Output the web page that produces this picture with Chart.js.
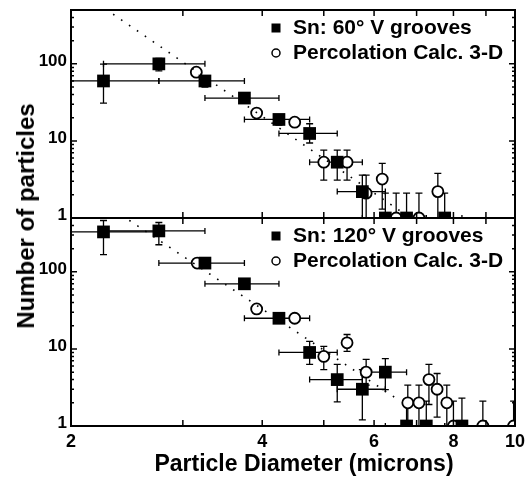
<!DOCTYPE html>
<html>
<head>
<meta charset="utf-8">
<script src="https://cdn.jsdelivr.net/npm/chart.js@4.4.1/dist/chart.umd.min.js"></script>
<style>
  body { margin:0; background:#fff; width:525px; height:477px; overflow:hidden; position:relative;
         font-family:"Liberation Sans", Arial, sans-serif; }
  canvas { position:absolute; left:0; }
  #cTop { top:0; }
  #cBot { top:217px; }
  #ytitle { position:absolute; left:26px; top:216px; transform:translate(-50%,-50%) rotate(-90deg);
            font-weight:bold; font-size:24px; white-space:nowrap; color:#000; }
  #xtitle { position:absolute; left:304px; top:463px; transform:translate(-50%,-50%);
            font-weight:bold; font-size:23px; white-space:nowrap; color:#000; }
</style>
</head>
<body>
<canvas id="cTop" width="525" height="232"></canvas>
<canvas id="cBot" width="525" height="260"></canvas>
<div id="ytitle">Number of particles</div>
<div id="xtitle">Particle Diameter (microns)</div>
<script>
// x ticks / y ticks
var xTicks = [2, 4, 6, 8, 10];
var yTicks = [1, 10, 100];

// top panel : Sn 60 deg V grooves
var sq60X   = [2.25, 2.75, 3.25, 3.75, 4.25, 4.75, 5.25, 5.75, 6.25, 6.75, 7.75];
var sq60Y   = [60, 100, 60, 36, 19, 12.5, 5.3, 2.2, 1, 1, 1];
var sq60Lo  = [31, 81, 50, 31, 16, 9.4, 3.1, 0.1, 0.1, 0.1, 0.1];
var sq60Hi  = [99, 118, 70, 42, 22, 16.7, 7.6, 3.6, 2.1, 2.1, 2.1];
var sq60Xe  = [0.5, 0.5, 0.5, 0.5, 0.5, 0.5, 0.5, 0.5, 0.5, 0.5, 0.5];
var pc60X   = [3.15, 3.92, 4.5, 5.0, 5.44, 5.83, 6.18, 6.5, 7.06, 7.56];
var pc60Y   = [78, 23, 17.5, 5.3, 5.3, 2.1, 3.2, 1, 1, 2.2];
var pc60Lo  = [78, 21, 15.5, 3.1, 3.1, 0.1, 1.3, 0.1, 0.1, 0.1];
var pc60Hi  = [78, 25, 19.5, 7.6, 7.6, 3.6, 5.1, 2.1, 2.1, 3.8];
var fit60X  = [2.2, 6.6];
var fit60Y  = [609, 1.23];

// bottom panel : Sn 120 deg V grooves
var sq120X  = [2.25, 2.75, 3.25, 3.75, 4.25, 4.75, 5.25, 5.75, 6.25, 6.75, 7.25, 8.25];
var sq120Y  = [330, 340, 130, 70, 25, 9, 4, 3, 5, 1, 1, 1];
var sq120Lo = [167, 225, 120, 62, 22, 6.3, 2.06, 1.2, 2.96, 0.1, 0.1, 0.1];
var sq120Hi = [464, 437, 150, 80, 28, 12.5, 6.3, 5.4, 7.5, 2.1, 2.1, 2.3];
var sq120Xe = [0.5, 0.5, 0.5, 0.5, 0.5, 0.5, 0.5, 0.5, 0.5, 0.5, 0.5, 0.5];
var pc120X  = [3.16, 3.92, 4.5, 5.0, 5.44, 5.83, 6.78, 7.06, 7.32, 7.54, 7.81, 8.0, 8.9, 9.95];
var pc120Y  = [130, 33, 25, 8, 12, 5, 2, 2, 4, 3, 2, 1, 1, 1];
var pc120Lo = [120, 30, 23, 5.4, 9.3, 3.4, 0.1, 0.1, 1.9, 1.3, 0.1, 0.1, 0.1, 0.1];
var pc120Hi = [145, 36, 28, 10.8, 15.4, 7.3, 3.4, 3.4, 6.3, 4.8, 3.4, 2.1, 2.1, 2.1];
var fit120X = [2.4, 6.6];
var fit120Y = [546, 2.1];

var FONT = '"Liberation Sans", Arial, sans-serif';

function pts(xs, ys) {
  return xs.map(function (v, i) { return {x: v, y: ys[i]}; });
}

function makePanel(id, p) {
  var panelPlugin = {
    id: 'panel_' + id,
    beforeDatasetsDraw: function (chart) {
      var ctx = chart.ctx, a = chart.chartArea, xs = chart.scales.x, ys = chart.scales.y;
      ctx.save();
      ctx.beginPath();
      ctx.rect(a.left, a.top, a.right - a.left, a.bottom - a.top);
      ctx.clip();
      ctx.strokeStyle = '#000';
      ctx.lineWidth = 1.3;
      p.err.forEach(function (e) {
        for (var i = 0; i < e.x.length; i++) {
          var px = xs.getPixelForValue(e.x[i]);
          var py = ys.getPixelForValue(e.y[i]);
          ctx.beginPath();
          if (e.xe) {
            var x0 = xs.getPixelForValue(e.x[i] - e.xe[i]);
            var x1 = xs.getPixelForValue(e.x[i] + e.xe[i]);
            ctx.moveTo(x0, py); ctx.lineTo(x1, py);
            ctx.moveTo(x0, py - 3); ctx.lineTo(x0, py + 3);
            ctx.moveTo(x1, py - 3); ctx.lineTo(x1, py + 3);
          }
          var y0 = ys.getPixelForValue(e.lo[i]);
          var y1 = ys.getPixelForValue(e.hi[i]);
          ctx.moveTo(px, y0); ctx.lineTo(px, y1);
          ctx.moveTo(px - 3.5, y0); ctx.lineTo(px + 3.5, y0);
          ctx.moveTo(px - 3.5, y1); ctx.lineTo(px + 3.5, y1);
          ctx.stroke();
        }
      });
      ctx.restore();
    },
    afterDraw: function (chart) {
      var ctx = chart.ctx, a = chart.chartArea, xs = chart.scales.x, ys = chart.scales.y;
      ctx.save();
      ctx.strokeStyle = '#000';
      // inward ticks
      ctx.lineWidth = 1.5;
      ctx.beginPath();
      for (var v = 2; v <= 10; v++) {
        var px = xs.getPixelForValue(v);
        ctx.moveTo(px, a.bottom); ctx.lineTo(px, a.bottom - 6);
        ctx.moveTo(px, a.top); ctx.lineTo(px, a.top + 6);
      }
      for (var d = 1; d <= 100; d *= 10) {
        for (var m = 1; m <= 9; m++) {
          var val = d * m;
          if (val > ys.max) break;
          var py = ys.getPixelForValue(val);
          var len = m === 1 ? 6 : 3;
          ctx.moveTo(a.left, py); ctx.lineTo(a.left + len, py);
          ctx.moveTo(a.right, py); ctx.lineTo(a.right - len, py);
        }
      }
      ctx.stroke();
      // frame
      ctx.lineWidth = 2;
      ctx.strokeRect(a.left, a.top, a.right - a.left, a.bottom - a.top);
      // legend
      var lx = 276, tx = 293;
      var r1 = a.top + 18, r2 = a.top + 43;
      ctx.fillStyle = '#000';
      ctx.fillRect(lx - 4.5, r1 - 4.5, 9, 9);
      ctx.lineWidth = 1.5;
      ctx.beginPath(); ctx.arc(lx, r2, 4, 0, Math.PI * 2); ctx.stroke();
      ctx.font = 'bold 21px ' + FONT;
      ctx.textBaseline = 'middle';
      ctx.textAlign = 'left';
      ctx.fillText(p.label1, tx, r1);
      ctx.fillText(p.label2, tx, r2);
      ctx.restore();
    }
  };

  return new Chart(document.getElementById(id), {
    type: 'scatter',
    data: {
      datasets: [
        {
          label: 'fit',
          data: pts(p.fitX, p.fitY),
          showLine: true,
          borderColor: '#000',
          borderWidth: 1.6,
          borderDash: [1.6, 8],
          pointRadius: 0
        },
        {
          label: p.label1,
          data: pts(p.sqX, p.sqY),
          pointStyle: 'rect',
          pointRadius: 9,
          backgroundColor: '#000',
          borderColor: '#000',
          borderWidth: 0
        },
        {
          label: p.label2,
          data: pts(p.pcX, p.pcY),
          pointStyle: 'circle',
          pointRadius: 5.5,
          backgroundColor: '#fff',
          borderColor: '#000',
          borderWidth: 1.8
        }
      ]
    },
    options: {
      responsive: false,
      animation: false,
      devicePixelRatio: 1,
      layout: { padding: p.padding, autoPadding: false },
      plugins: { legend: { display: false }, tooltip: { enabled: false } },
      scales: {
        x: {
          type: 'logarithmic',
          min: 2, max: 10,
          display: p.showX,
          grid: { display: false, drawTicks: false },
          border: { display: false },
          afterBuildTicks: function (s) { s.ticks = xTicks.map(function (v) { return {value: v}; }); },
          afterFit: function (s) { s.height = p.xHeight; s.paddingLeft = 0; s.paddingRight = 0; },
          ticks: {
            color: '#000', padding: 5, maxRotation: 0, autoSkip: false,
            font: { family: FONT, size: 18, weight: 'bold' },
            callback: function (v) { return String(v); }
          }
        },
        y: {
          type: 'logarithmic',
          min: 1, max: 500,
          grid: { display: false, drawTicks: false },
          border: { display: false },
          afterBuildTicks: function (s) { s.ticks = yTicks.map(function (v) { return {value: v}; }); },
          afterFit: function (s) { s.width = 71; s.paddingTop = 0; s.paddingBottom = 0; },
          ticks: {
            color: '#000', padding: 4, autoSkip: false, labelOffset: -3,
            font: { family: FONT, size: 17, weight: 'bold' },
            callback: function (v) { return String(v); }
          }
        }
      }
    },
    plugins: [panelPlugin]
  });
}

makePanel('cTop', {
  sqX: sq60X, sqY: sq60Y, pcX: pc60X, pcY: pc60Y, fitX: fit60X, fitY: fit60Y,
  err: [
    {x: sq60X, y: sq60Y, lo: sq60Lo, hi: sq60Hi, xe: sq60Xe},
    {x: pc60X, y: pc60Y, lo: pc60Lo, hi: pc60Hi}
  ],
  label1: 'Sn: 60\u00b0 V grooves', label2: 'Percolation Calc. 3-D',
  padding: { left: 0, right: 10, top: 10, bottom: 14 },
  showX: false, xHeight: 0
});

makePanel('cBot', {
  sqX: sq120X, sqY: sq120Y, pcX: pc120X, pcY: pc120Y, fitX: fit120X, fitY: fit120Y,
  err: [
    {x: sq120X, y: sq120Y, lo: sq120Lo, hi: sq120Hi, xe: sq120Xe},
    {x: pc120X, y: pc120Y, lo: pc120Lo, hi: pc120Hi}
  ],
  label1: 'Sn: 120\u00b0 V grooves', label2: 'Percolation Calc. 3-D',
  padding: { left: 0, right: 10, top: 1, bottom: 0 },
  showX: true, xHeight: 51
});
</script>
</body>
</html>
